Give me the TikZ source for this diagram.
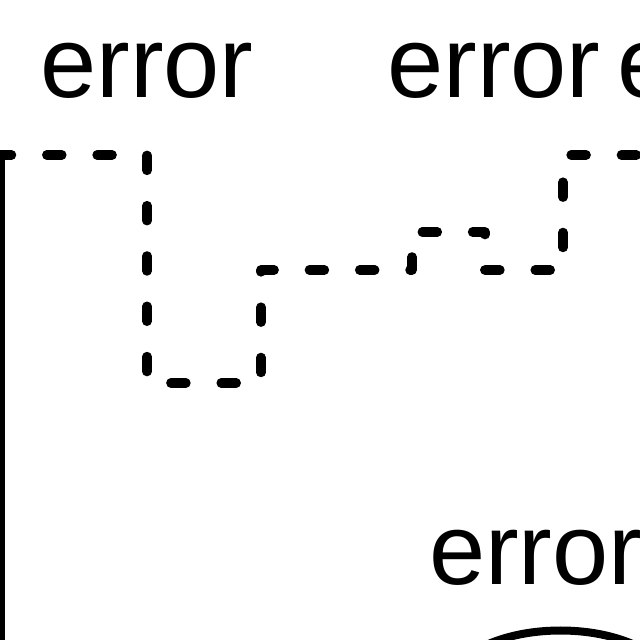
\documentclass[tikz,border=0pt]{standalone}
\usepackage{fontspec}
\setmainfont{Liberation Sans}
\usetikzlibrary{shapes.geometric}
\begin{document}
\begin{tikzpicture}[x=1pt,y=1pt,
  lbl/.style={inner sep=0pt,outer sep=0pt,font=\fontsize{101}{110}\selectfont},
  dsh/.style={line width=9.5pt,dash pattern=on 15pt off 35.3pt,line cap=round,line join=round},
  solidln/.style={line width=9pt},
  shapeln/.style={line width=8pt}]
\useasboundingbox (0,0) rectangle (640,640);
\clip (0,0) rectangle (640,640);
% labels
\node[lbl,anchor=base] (l1) at (147,542) {error};
\node[lbl,anchor=base] (l2) at (494,542) {error};
\node[lbl,anchor=base west] (l3) at (617,542) {error};
\node[lbl,anchor=base west] (l4) at (429,55) {error};
% dashed step path
\coordinate (p0) at (-3.5,485);
\coordinate (p1) at (147,485);
\coordinate (p2) at (147,257);
\coordinate (p3) at (261,257);
\coordinate (p4) at (261,370);
\coordinate (p5) at (412,370);
\coordinate (p6) at (412,408);
\coordinate (p7) at (485,408);
\coordinate (p8) at (485,370);
\coordinate (p9) at (563,370);
\coordinate (p10) at (563,485);
\coordinate (p11) at (700,485);
\draw[dsh] (p0) -- (p1) -- (p2) -- (p3) -- (p4) -- (p5) -- (p6) -- (p7) -- (p8) -- (p9) -- (p10) -- (p11);
% solid line
\coordinate (s0) at (0,485);
\coordinate (s1) at (0,-20);
\draw[solidln] (s0) -- (s1);
% ellipse shape at bottom
\coordinate (ec) at (560.5,-50.5);
\draw[shapeln] (ec) ellipse [x radius=114pt, y radius=60pt];
\end{tikzpicture}
\end{document}
